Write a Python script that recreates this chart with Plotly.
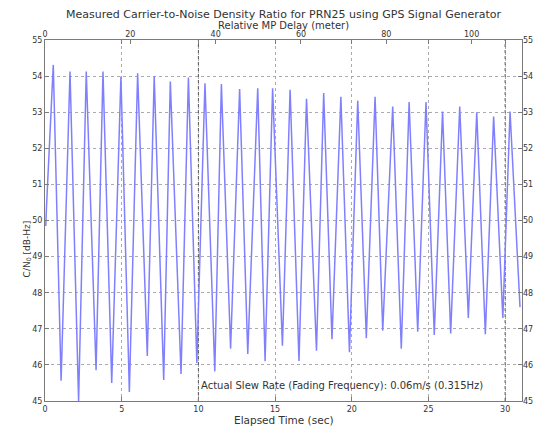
import plotly.graph_objects as go

# Peaks and troughs (time in s, C/N0 in dB-Hz)
start_t = [0.05, 0.10]
start_v = [49.85, 50.4]

peak_t = [0.54, 1.63, 2.69, 3.78, 4.95, 6.04, 7.12, 8.17, 9.35, 10.43, 11.50, 12.69, 13.87, 14.84,
          15.98, 17.05, 18.17, 19.29, 20.39, 21.52, 22.67, 23.74, 24.84, 25.92, 27.04, 28.15, 29.25, 30.32]
peak_v = [54.31, 54.13, 54.13, 54.13, 53.99, 54.08, 54.00, 53.85, 53.96, 53.80, 53.78, 53.64, 53.66, 53.66,
          53.62, 53.37, 53.53, 53.43, 53.32, 53.43, 53.16, 53.28, 53.28, 53.02, 53.16, 53.00, 52.88, 53.02]

trough_t = [1.05, 2.19, 3.33, 4.35, 5.50, 6.67, 7.74, 8.87, 9.90, 11.07, 12.10, 13.22, 14.35, 15.48,
            16.56, 17.70, 18.71, 19.85, 20.95, 22.02, 23.23, 24.30, 25.38, 26.45, 27.60, 28.71, 29.85]
trough_v = [45.56, 45.00, 45.85, 45.50, 45.25, 46.25, 45.58, 45.75, 46.05, 45.82, 46.45, 46.30, 46.10, 46.53,
            46.11, 46.39, 46.71, 46.35, 46.74, 46.95, 46.45, 46.92, 46.83, 46.87, 47.30, 46.85, 47.30]

end_t = [30.97]
end_v = [47.60]

# dark dotted marker lines in the reference
marker_times = [10, 30]

# assemble trace: start, then alternate peak / trough
xs = list(start_t)
ys = list(start_v)
for i in range(len(peak_t)):
    xs.append(peak_t[i]); ys.append(peak_v[i])
    if i < len(trough_t):
        xs.append(trough_t[i]); ys.append(trough_v[i])
xs += end_t
ys += end_v

x_ticks = [0, 5, 10, 15, 20, 25, 30]
top_ticks = [0, 20, 40, 60, 80, 100]
y_ticks = [45, 46, 47, 48, 49, 50, 51, 52, 53, 54, 55]
y_range = [45, 55]

FONT = "DejaVu Sans"
TXT = "#333333"
AX = "#7a7a7a"
GRID = "#ababab"

mx, my = [], []
for t in marker_times:
    mx += [t, t, None]
    my += [y_range[0], y_range[1], None]

fig = go.Figure()
fig.add_trace(go.Scatter(x=mx, y=my, mode="lines",
                         line=dict(color="#555555", width=1, dash="dot"),
                         showlegend=False, hoverinfo="skip"))
fig.add_trace(go.Scatter(x=xs, y=ys, mode="lines",
                         line=dict(color="#8080ff", width=1.5),
                         showlegend=False, hoverinfo="skip"))
# invisible trace for secondary axes
fig.add_trace(go.Scatter(x=[0], y=[45], xaxis="x2", yaxis="y2", mode="markers",
                         marker=dict(opacity=0), showlegend=False, hoverinfo="skip"))

fig.update_layout(
    width=537, height=418,
    margin=dict(l=37, r=18, t=32, b=24),
    paper_bgcolor="white", plot_bgcolor="white",
    font=dict(family=FONT, size=8, color=TXT),
    xaxis=dict(range=[0, 31.1], tickvals=x_ticks, ticks="inside", ticklen=4,
               tickcolor=AX, showline=True, linecolor=AX, linewidth=1, mirror="ticks",
               showgrid=True, gridcolor=GRID, griddash="dot", gridwidth=1,
               zeroline=False, tickfont=dict(size=8, color=TXT)),
    xaxis2=dict(range=[0, 111.8], tickvals=top_ticks, overlaying="x", side="top",
                ticks="inside", ticklen=4, tickcolor=AX, showgrid=False, zeroline=False,
                showline=False, tickfont=dict(size=8, color=TXT)),
    yaxis=dict(range=y_range, tickvals=y_ticks, ticks="inside", ticklen=4,
               tickcolor=AX, showline=True, linecolor=AX, linewidth=1, mirror="ticks",
               showgrid=True, gridcolor=GRID, griddash="dot", gridwidth=1,
               zeroline=False, tickfont=dict(size=8, color=TXT)),
    yaxis2=dict(range=y_range, tickvals=y_ticks, overlaying="y", side="right",
                ticks="inside", ticklen=4, tickcolor=AX, showgrid=False, zeroline=False,
                showline=False, tickfont=dict(size=8, color=TXT)),
    annotations=[
        dict(text="Measured Carrier-to-Noise Density Ratio for PRN25 using GPS Signal Generator",
             xref="paper", yref="paper", x=0.5, y=1, yshift=26, showarrow=False,
             font=dict(size=11, color=TXT), xanchor="center", yanchor="middle"),
        dict(text="Relative MP Delay (meter)",
             xref="paper", yref="paper", x=0.5, y=1, yshift=14.5, showarrow=False,
             font=dict(size=10, color=TXT), xanchor="center", yanchor="middle"),
        dict(text="C/N<sub>0</sub> [dB-Hz]", textangle=-90,
             xref="paper", yref="paper", x=0, xshift=-18, y=0.42, showarrow=False,
             font=dict(size=9, color=TXT), xanchor="center", yanchor="middle"),
        dict(text="Elapsed Time (sec)",
             xref="paper", yref="paper", x=0.5, y=0, yshift=-18.5, showarrow=False,
             font=dict(size=10.5, color=TXT), xanchor="center", yanchor="middle"),
        dict(text="Actual Slew Rate (Fading Frequency): 0.06m/s (0.315Hz)",
             x=10.05, y=45.44, xref="x", yref="y", showarrow=False,
             xanchor="left", yanchor="middle", font=dict(size=10, color=TXT)),
    ],
)

fig.write_html("out.html")
